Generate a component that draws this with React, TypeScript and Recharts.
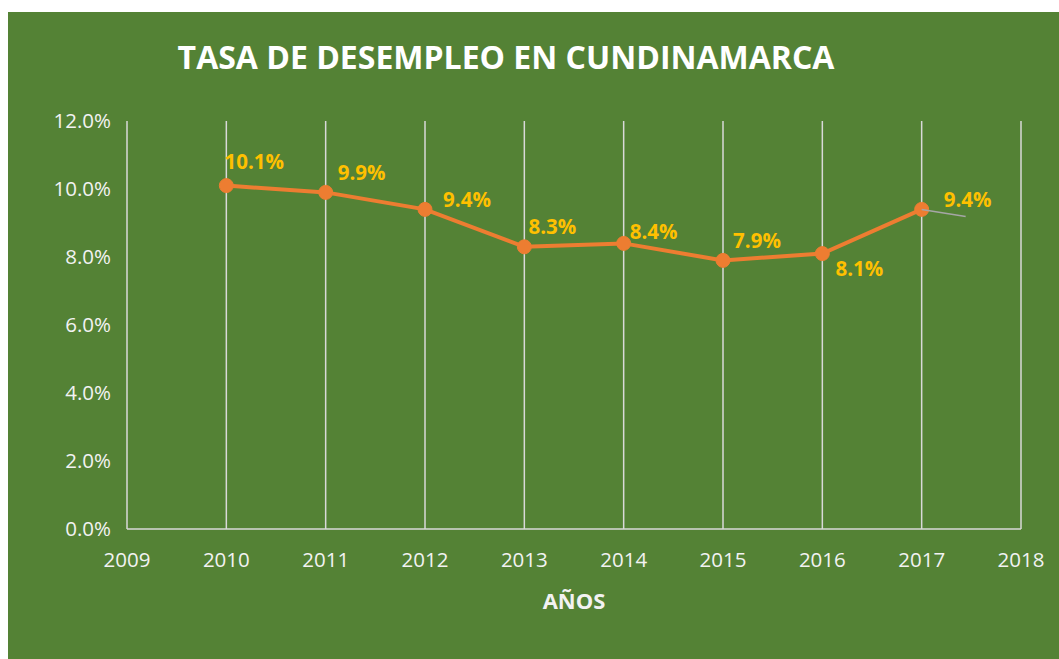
import React from "react";
import { LineChart, Line, XAxis, YAxis, CartesianGrid, LabelList, Label } from "recharts";

const years = [2010, 2011, 2012, 2013, 2014, 2015, 2016, 2017];
const rates = [0.101, 0.099, 0.094, 0.083, 0.084, 0.079, 0.081, 0.094];
const xTicks = [2009, 2010, 2011, 2012, 2013, 2014, 2015, 2016, 2017, 2018];
const yTicks = [0, 0.02, 0.04, 0.06, 0.08, 0.1, 0.12];
const title = "TASA DE DESEMPLEO EN CUNDINAMARCA";
const xTitle = "AÑOS";

// label offsets (dx, dy) relative to each point
const labelOffsets = [
  [28, -25], [36, -20], [42, -10], [28, -21], [30, -12], [34, -20], [37, 14], [46, -10],
];

const data = years.map((y, i) => ({ year: y, rate: rates[i] }));

const FONT = "'Open Sans', 'Noto Sans', sans-serif";
const BG = "#548235";
const TEXT = "#F2F2F2";

const pct = (v: number) => (v * 100).toFixed(1) + "%";

const renderLabel = (props: any) => {
  const { x, y, value, index } = props;
  const [dx, dy] = labelOffsets[index] || [0, -15];
  const last = index === years.length - 1;
  return (
    <g>
      {last && (
        <line x1={x} y1={y} x2={x + 44} y2={y + 7} stroke="#A6A6A6" strokeWidth={1.5} />
      )}
      <text
        x={x + dx}
        y={y + dy}
        textAnchor="middle"
        dominantBaseline="central"
        fill="#FFC000"
        fontFamily={FONT}
        fontWeight={700}
        fontSize={20.5}
      >
        {pct(value)}
      </text>
    </g>
  );
};

export default function App() {
  return (
    <div style={{ position: "absolute", left: 8, top: 12, width: 1051, height: 647, background: BG }}>
      <div
        style={{
          position: "absolute",
          left: 0,
          width: 996,
          top: 25,
          textAlign: "center",
          color: "#FFFFFF",
          fontFamily: FONT,
          fontWeight: 700,
          fontSize: 32,
          lineHeight: "40px",
        }}
      >
        {title}
      </div>
      <LineChart
        width={1051}
        height={647}
        data={data}
        margin={{ top: 109, right: 38, left: 0, bottom: 48 }}
      >
        <CartesianGrid horizontal={false} vertical={true} stroke="#D9D9D9" strokeWidth={1.5} verticalValues={xTicks} />
        <XAxis
          dataKey="year"
          type="number"
          domain={[2009, 2018]}
          ticks={xTicks}
          interval={0}
          axisLine={{ stroke: "#D9D9D9", strokeWidth: 1.5 }}
          tickLine={false}
          tickSize={0}
          tickMargin={23}
          height={82}
          tick={{ fill: TEXT, fontSize: 20.5, fontFamily: FONT }}
        >
          <Label
            value={xTitle}
            position="insideBottom"
            offset={2}
            fill={TEXT}
            fontFamily={FONT}
            fontWeight={700}
            fontSize={22}
          />
        </XAxis>
        <YAxis
          type="number"
          domain={[0, 0.12]}
          ticks={yTicks}
          width={119}
          axisLine={false}
          tickLine={false}
          tickSize={0}
          tickMargin={16}
          tickFormatter={pct}
          tick={{ fill: TEXT, fontSize: 20.5, fontFamily: FONT }}
        />
        <Line
          type="linear"
          dataKey="rate"
          stroke="#ED7D31"
          strokeWidth={4}
          dot={{ r: 7, fill: "#ED7D31", stroke: "#ED7D31", strokeWidth: 1 }}
          activeDot={false}
          isAnimationActive={false}
        >
          <LabelList dataKey="rate" content={renderLabel} />
        </Line>
      </LineChart>
    </div>
  );
}
